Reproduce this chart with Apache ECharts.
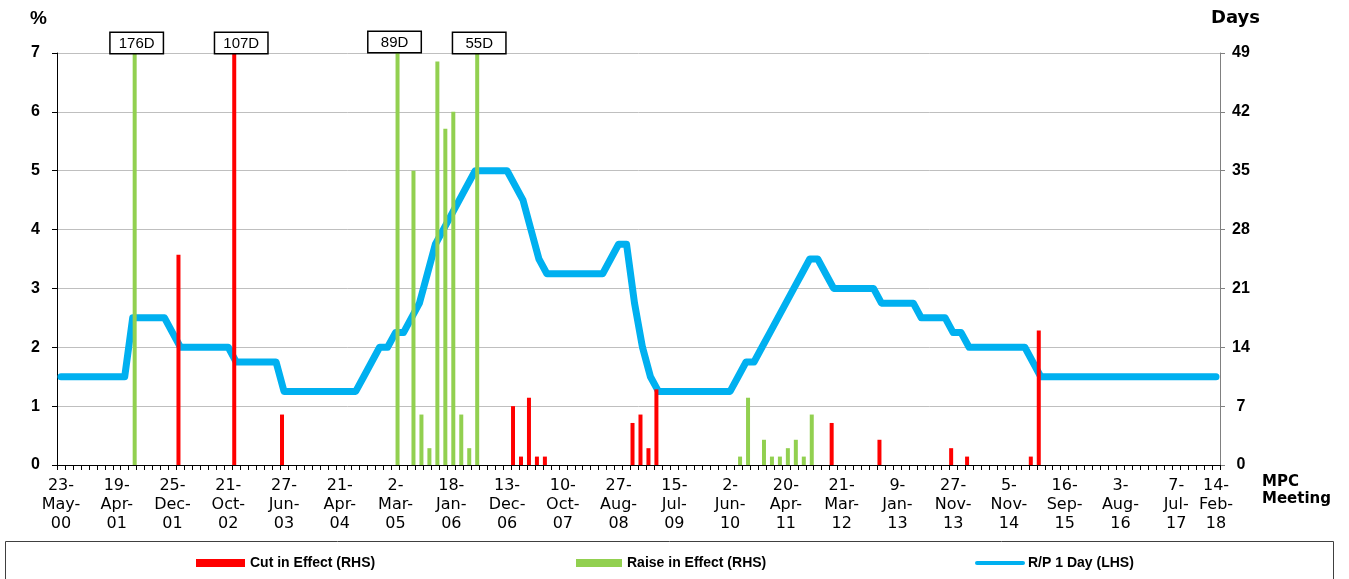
<!DOCTYPE html>
<html><head><meta charset="utf-8">
<script src="https://cdn.jsdelivr.net/npm/echarts@6/dist/echarts.min.js"></script>
<style>html,body{margin:0;padding:0;background:#fff}#c{width:1349px;height:579px}</style>
</head><body><div id="c"></div>
<script>
// ---- data ----
const meetingCount = 146;
const tickLabels = ['23-May-00','19-Apr-01','25-Dec-01','21-Oct-02','27-Jun-03','21-Apr-04','2-Mar-05','18-Jan-06','13-Dec-06','10-Oct-07','27-Aug-08','15-Jul-09','2-Jun-10','20-Apr-11','21-Mar-12','9-Jan-13','27-Nov-13','5-Nov-14','16-Sep-15','3-Aug-16','7-Jul-17','14-Feb-18'];
const tickLabelIdx = [0,7,14,21,28,35,42,49,56,63,70,77,84,91,98,105,112,119,126,133,140,145];
// R/P 1 Day rate (%), one value per MPC meeting
const rp = [
 1.5,1.5,1.5,1.5,1.5,1.5,1.5,1.5,1.5,2.5,
 2.5,2.5,2.5,2.5,2.25,2,2,2,2,2,
 2,2,1.75,1.75,1.75,1.75,1.75,1.75,1.25,1.25,
 1.25,1.25,1.25,1.25,1.25,1.25,1.25,1.25,1.5,1.75,
 2,2,2.25,2.25,2.5,2.75,3.25,3.75,4,4.25,
 4.5,4.75,5,5,5,5,5,4.75,4.5,4,
 3.5,3.25,3.25,3.25,3.25,3.25,3.25,3.25,3.25,3.5,
 3.75,3.75,2.75,2,1.5,1.25,1.25,1.25,1.25,1.25,
 1.25,1.25,1.25,1.25,1.25,1.5,1.75,1.75,2,2.25,
 2.5,2.75,3,3.25,3.5,3.5,3.25,3,3,3,
 3,3,3,2.75,2.75,2.75,2.75,2.75,2.5,2.5,
 2.5,2.5,2.25,2.25,2,2,2,2,2,2,
 2,2,1.75,1.5,1.5,1.5,1.5,1.5,1.5,1.5,
 1.5,1.5,1.5,1.5,1.5,1.5,1.5,1.5,1.5,1.5,
 1.5,1.5,1.5,1.5,1.5,1.5
];
// [meeting index, days in effect]
const cutEvents = [[15,25],[22,107],[28,6],[57,7],[58,1],[59,8],[60,1],[61,1],[72,5],[73,6],[74,2],[75,9],[97,5],[103,3],[112,2],[114,1],[122,1],[123,16]];
const raiseEvents = [[9,176],[42,89],[44,35],[45,6],[46,2],[47,48],[48,40],[49,42],[50,6],[51,2],[52,55],[85,1],[86,8],[88,3],[89,1],[90,1],[91,2],[92,3],[93,1],[94,6]];
const pctMax = 7, pctStep = 1;
const daysMax = 49, daysStep = 7;

// ---- styling helpers ----
const FONT = "'Liberation Sans', Arial, sans-serif";
const WIDE = "'DejaVu Sans', 'Liberation Sans', sans-serif";
const boxLabelOffset = {9: [2, 0], 22: [7, 0], 42: [-3, -1], 52: [2, 0]};

const categories = Array.from({length: meetingCount}, () => '');
tickLabelIdx.forEach((k, j) => { categories[k] = tickLabels[j]; });

function barData(events) {
  const arr = new Array(meetingCount).fill(null);
  events.forEach(([k, d]) => {
    if (d > daysMax) {
      arr[k] = {value: daysMax, raw: d, label: {show: true, offset: boxLabelOffset[k] || [0, 0]}};
    } else {
      arr[k] = d;
    }
  });
  return arr;
}

const boxLabel = {
  show: false, position: 'top', distance: 0,
  formatter: p => (p.data && p.data.raw) ? p.data.raw + 'D' : '',
  color: '#000', fontFamily: FONT, fontSize: 15, lineHeight: 17,
  width: 38, align: 'center',
  backgroundColor: '#fff', borderColor: '#000', borderWidth: 1.5,
  padding: [2, 7, 1, 7]
};

const legendText = {color: '#000', fontFamily: FONT, fontSize: 14, fontWeight: 'bold'};

const chart = echarts.init(document.getElementById('c'), null, {renderer: 'canvas'});
chart.setOption({
  animation: false,
  backgroundColor: '#fff',
  textStyle: {fontFamily: FONT},
  grid: {left: 57, right: 129, top: 53, bottom: 114, containLabel: false},
  xAxis: {
    type: 'category', data: categories, boundaryGap: true,
    axisLine: {show: true, lineStyle: {color: '#000', width: 1}},
    axisTick: {show: true, interval: 0, length: 5, lineStyle: {color: '#000'}},
    axisLabel: {
      interval: 0, margin: 11, color: '#000', fontFamily: WIDE, fontSize: 16, lineHeight: 19,
      formatter: v => v ? v.replace(/-/g, '-\n') : ''
    },
    splitLine: {show: false}
  },
  yAxis: [
    {
      type: 'value', min: 0, max: pctMax, interval: pctStep, position: 'left',
      axisLine: {show: true, lineStyle: {color: '#000'}},
      axisTick: {show: true, length: 5, lineStyle: {color: '#000'}},
      axisLabel: {margin: 17, color: '#000', fontFamily: FONT, fontSize: 16, fontWeight: 'bold'},
      splitLine: {show: true, lineStyle: {color: '#BFBFBF', width: 1}}
    },
    {
      type: 'value', min: 0, max: daysMax, interval: daysStep, position: 'right',
      axisLine: {show: true, lineStyle: {color: '#808080'}},
      axisTick: {show: true, length: 5, lineStyle: {color: '#808080'}},
      axisLabel: {margin: 21, align: 'center', color: '#000', fontFamily: FONT, fontSize: 16, fontWeight: 'bold'},
      splitLine: {show: false}
    }
  ],
  legend: [
    {left: 196, top: 556, padding: 0, itemWidth: 49, itemHeight: 8, textStyle: legendText,
     data: [{name: 'Cut in Effect (RHS)', icon: 'rect'}]},
    {left: 576, top: 556, padding: 0, itemWidth: 46, itemHeight: 8, textStyle: legendText,
     data: [{name: 'Raise in Effect (RHS)', icon: 'rect'}]},
    {left: 975, top: 556, padding: 0, itemWidth: 46, itemHeight: 8, textStyle: legendText,
     data: [{name: 'R/P 1 Day (LHS)', itemStyle: {opacity: 0}, lineStyle: {width: 4, cap: 'round'}}]}
  ],
  graphic: [
    {type: 'text', left: 30, top: 9, style: {text: '%', fontFamily: FONT, fontSize: 19, fontWeight: 'bold', fill: '#000'}},
    {type: 'text', left: 1211, top: 9, style: {text: 'Days', fontFamily: WIDE, fontSize: 18, fontWeight: 'bold', fill: '#000'}},
    {type: 'text', left: 1262, top: 474, style: {text: 'MPC\nMeeting', fontFamily: WIDE, fontSize: 15, lineHeight: 17, fontWeight: 'bold', fill: '#000'}},
    {type: 'rect', shape: {x: 5.5, y: 541.5, width: 1328, height: 60}, style: {fill: 'none', stroke: '#404040', lineWidth: 1}, silent: true}
  ],
  series: [
    {
      name: 'R/P 1 Day (LHS)', type: 'line', yAxisIndex: 0, data: rp,
      symbol: 'none', z: 2,
      itemStyle: {color: '#00B0F0'},
      lineStyle: {color: '#00B0F0', width: 7, join: 'round', cap: 'round'}
    },
    {
      name: 'Cut in Effect (RHS)', type: 'bar', yAxisIndex: 1, data: barData(cutEvents),
      barWidth: 4, barGap: '0%', z: 3,
      itemStyle: {color: '#FF0000'}, label: boxLabel
    },
    {
      name: 'Raise in Effect (RHS)', type: 'bar', yAxisIndex: 1, data: barData(raiseEvents),
      barWidth: 4, barGap: '0%', z: 3,
      itemStyle: {color: '#92D050'}, label: boxLabel
    }
  ]
});
</script></body></html>
